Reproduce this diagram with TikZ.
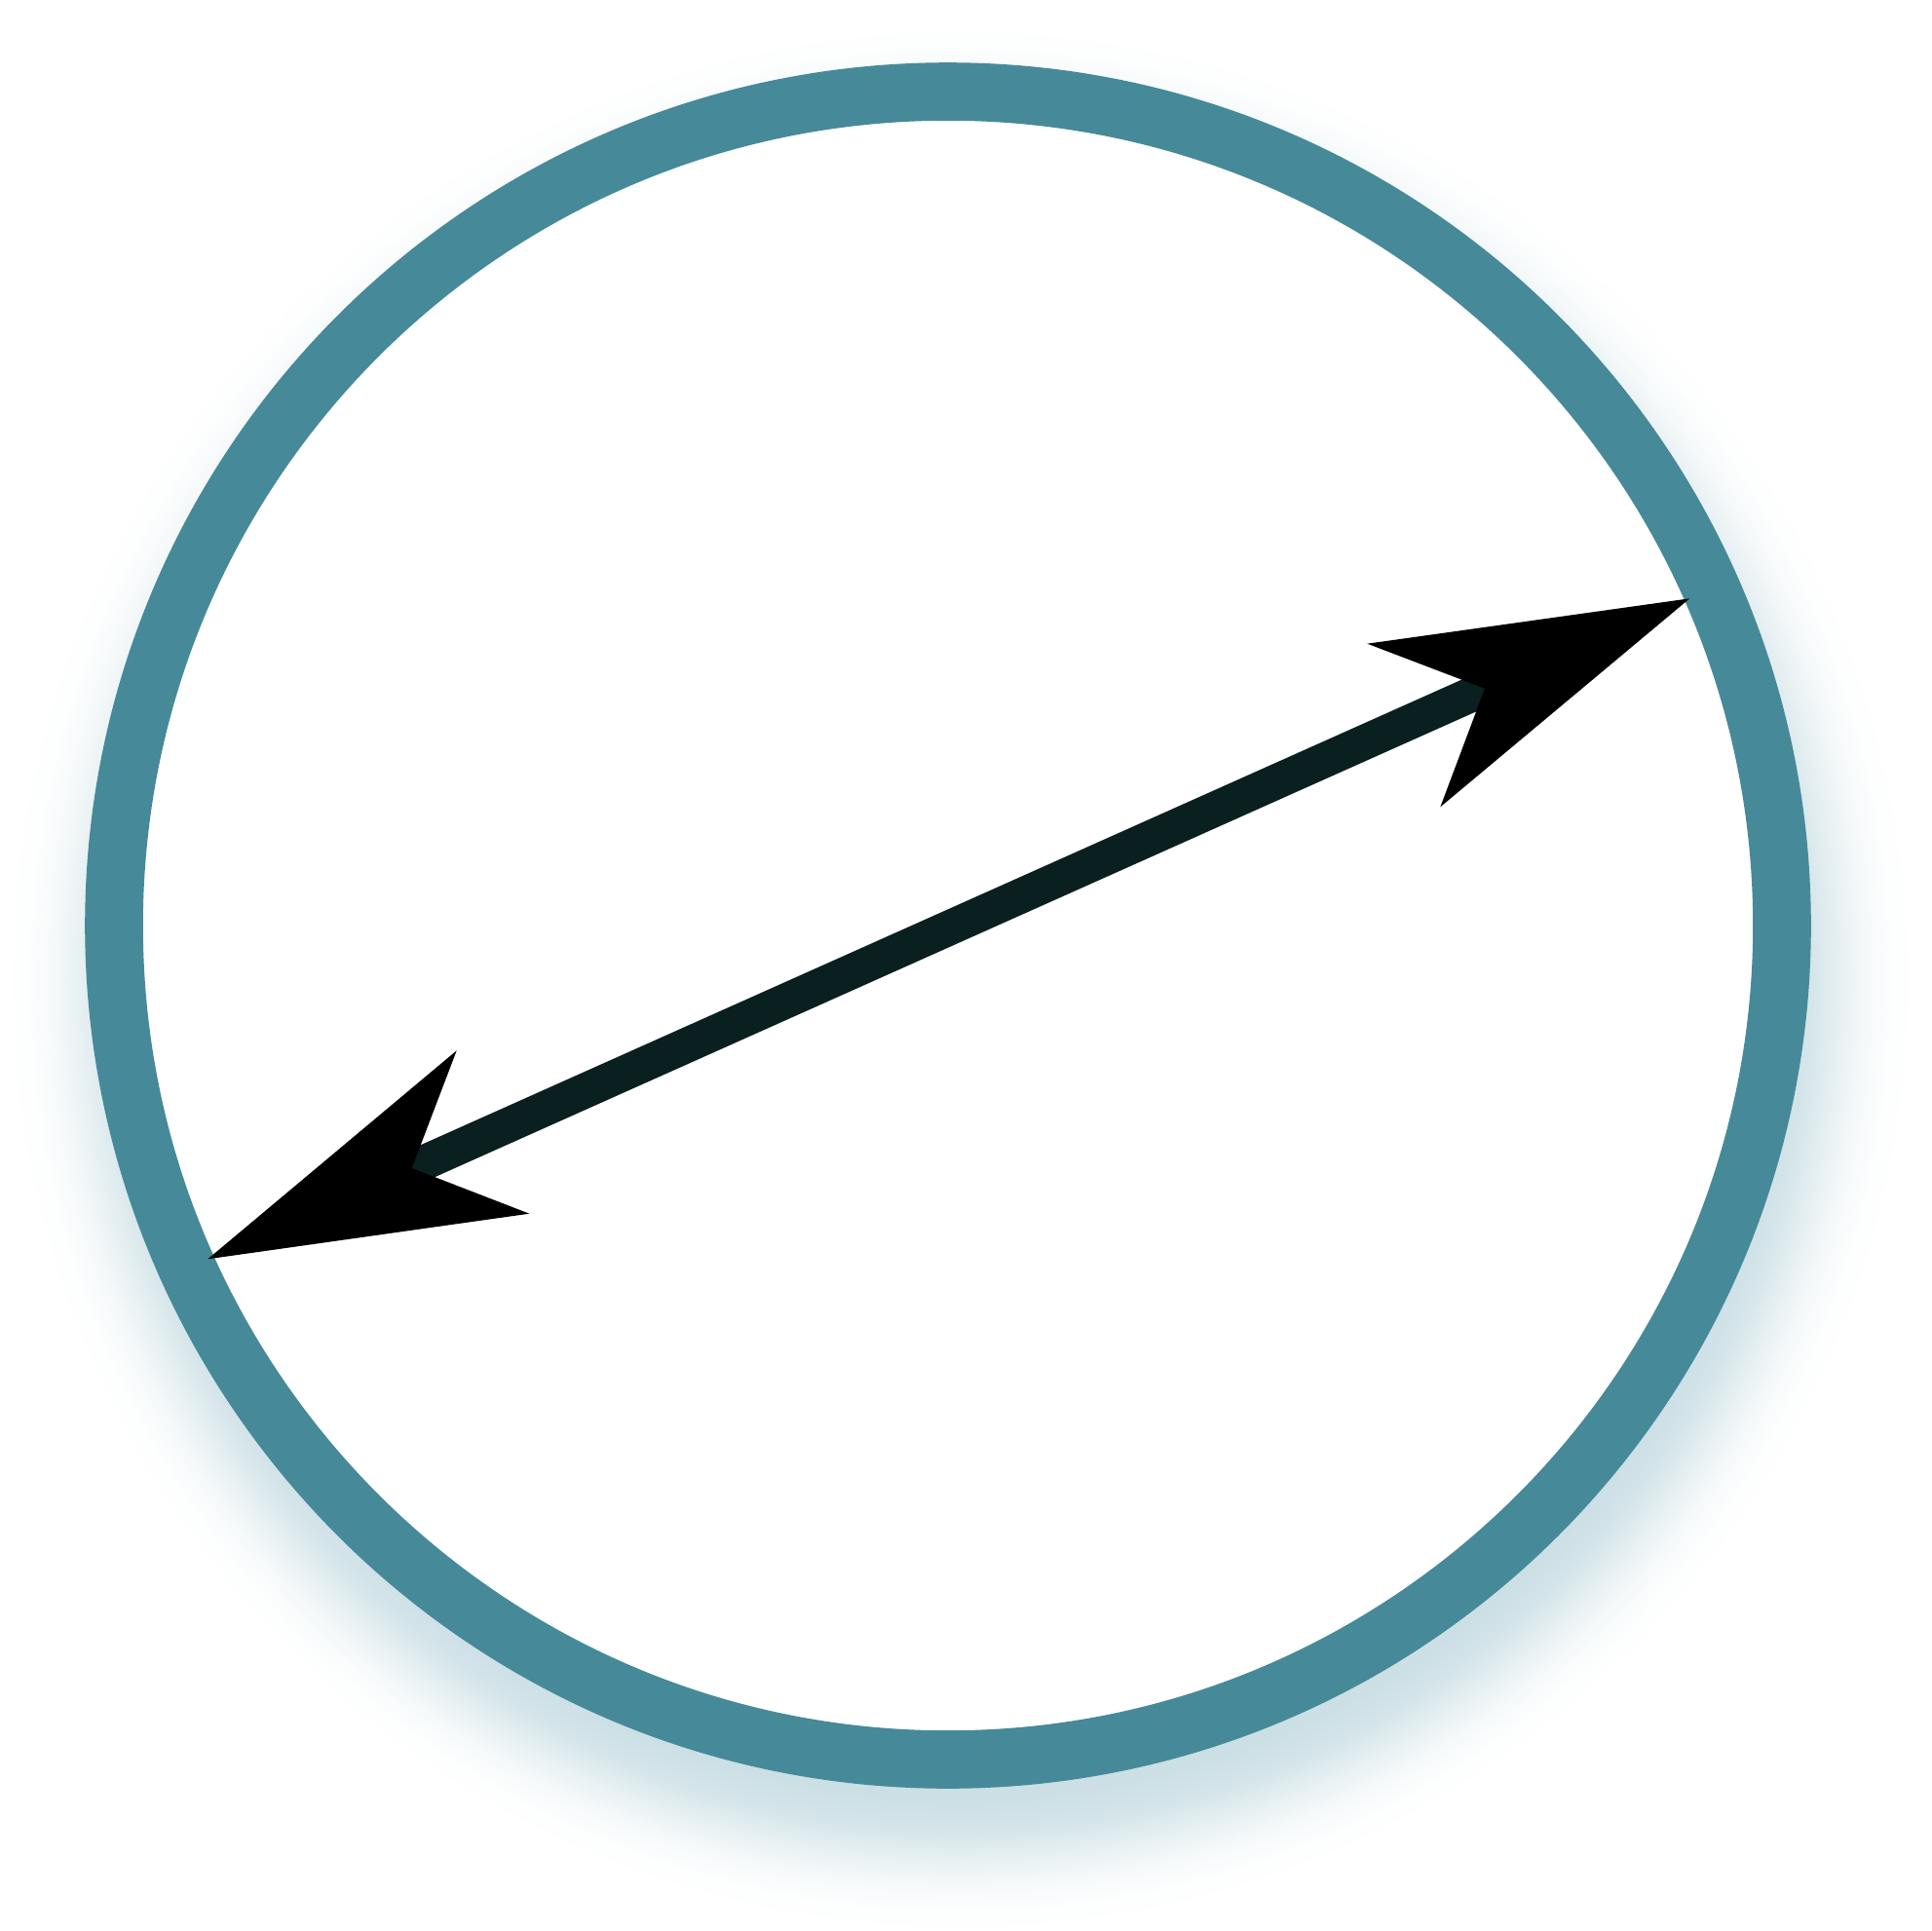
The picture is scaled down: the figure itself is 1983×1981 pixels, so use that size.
\documentclass[tikz,border=0pt]{standalone}
\definecolor{ringc}{RGB}{70,138,153}
\definecolor{linec}{RGB}{10,31,32}
\definecolor{shc}{RGB}{203,223,229}
\pgfdeclareradialshading{shadowglow}{\pgfpoint{0bp}{0bp}}{color(0bp)=(shc); color(14bp)=(shc); color(14.583bp)=(shc!80!white); color(15bp)=(shc!50!white); color(15.5bp)=(shc!18!white); color(15.917bp)=(shc!5!white); color(16.333bp)=(white); color(50bp)=(white)}
\tikzset{
  ringstyle/.style={circle, draw=ringc, line width=59.6pt, fill=white, minimum size=1712pt, inner sep=0pt},
  shaft/.style={draw=linec, line width=36pt},
  headstyle/.style={fill=black},
}
\begin{document}
\begin{tikzpicture}[x=1pt,y=-1pt]
\useasboundingbox (0,0) rectangle (1983,1981);
\clip (0,0) rectangle (1983,1981);
% soft shadow (extends past the page so that its rim is never seen)
\fill[shading=shadowglow] (985,1005) circle[radius=1500pt];
% ring
\node[ringstyle] (ring) at (973,950) {};
% arrow end points
\coordinate (L) at (213.3,1292.3);
\coordinate (R) at (1734.3,614.3);
\coordinate (Ln) at (422.7,1199);
\coordinate (Rn) at (1524,706.7);
\coordinate (Lb1) at (468.7,1078.3);
\coordinate (Lb2) at (543.3,1245.7);
\coordinate (Rb1) at (1403.3,660.7);
\coordinate (Rb2) at (1478.3,828.3);
% shaft
\draw[shaft] (Ln) -- (Rn);
% heads
\fill[headstyle] (R) -- (Rb1) -- (Rn) -- (Rb2) -- cycle;
\fill[headstyle] (L) -- (Lb1) -- (Ln) -- (Lb2) -- cycle;
\end{tikzpicture}
\end{document}
